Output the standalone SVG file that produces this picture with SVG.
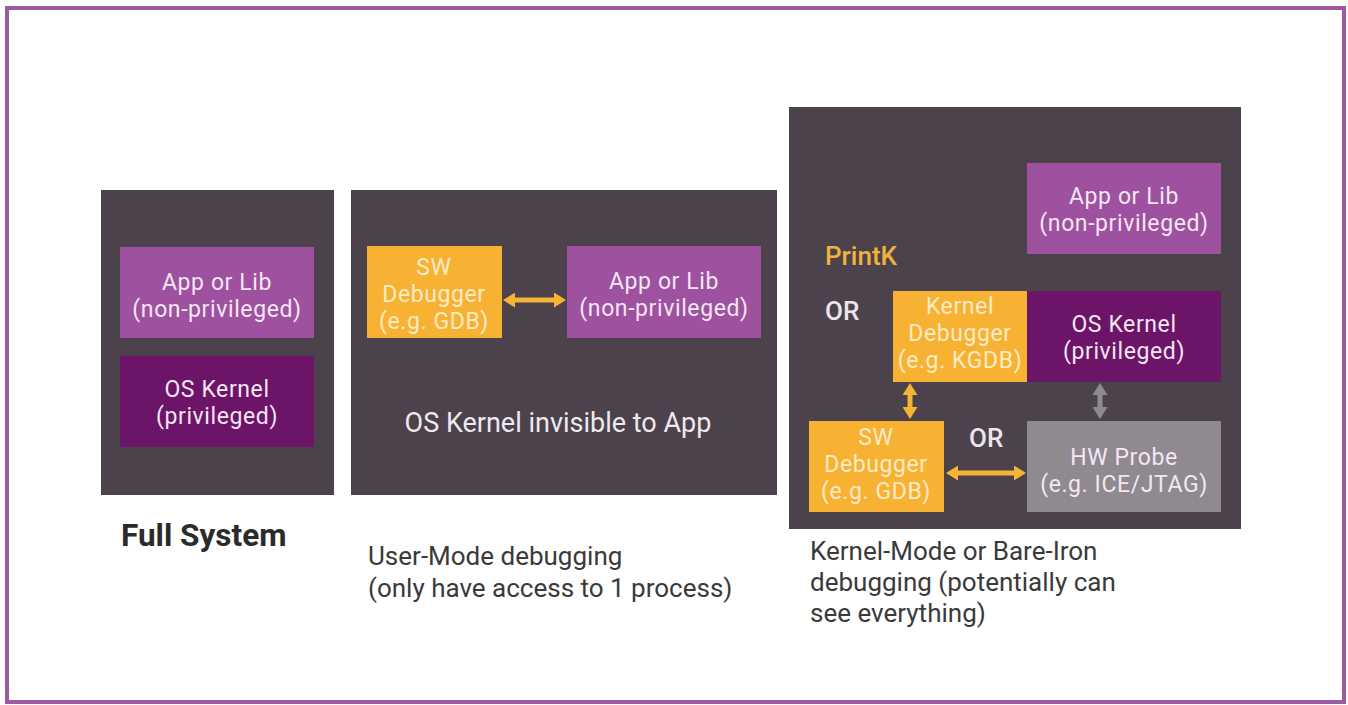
<svg xmlns="http://www.w3.org/2000/svg" width="1348" height="705" viewBox="0 0 1348 705">
  <style>
    .panel { fill: #4b424c; }
    .app { fill: #9d519f; }
    .kern { fill: #6c1468; }
    .dbg { fill: #f8b233; }
    .probe { fill: #8f8a90; }
    text { font-family: Roboto, "Liberation Sans", sans-serif; }
    .box { font-size: 23px; letter-spacing: 0.6px; fill: #f5e6f3; text-anchor: middle; }
    .boxo { font-size: 23px; letter-spacing: 0.6px; fill: #fdebc6; text-anchor: middle; }
    .big { font-size: 27px; fill: #efe9ef; text-anchor: middle; }
    .cap { font-size: 26px; fill: #3a3a3a; }
    .or { font-size: 26px; fill: #ece6ec; font-weight: 500; }
    .wire { stroke: #f6b437; stroke-width: 5; fill: none; marker-start: url(#headO); marker-end: url(#headO); }
    .wire.gray { stroke: #8f8a90; marker-start: url(#headG); marker-end: url(#headG); }
  </style>
  <defs>
    <marker id="headO" viewBox="0 0 12 15" refX="2" refY="7.5" markerWidth="12" markerHeight="15" markerUnits="userSpaceOnUse" orient="auto-start-reverse">
      <path d="M0,0 L12,7.5 L0,15 z" fill="#f6b437"/>
    </marker>
    <marker id="headG" viewBox="0 0 12 15" refX="2" refY="7.5" markerWidth="12" markerHeight="15" markerUnits="userSpaceOnUse" orient="auto-start-reverse">
      <path d="M0,0 L12,7.5 L0,15 z" fill="#8f8a90"/>
    </marker>
  </defs>

  <!-- page frame -->
  <rect x="0" y="0" width="1348" height="705" fill="#ffffff"/>
  <rect x="7" y="8" width="1337" height="694" fill="none" stroke="#9c5aa3" stroke-width="4"/>

  <!-- Full system panel -->
  <g id="panel-full">
    <rect class="panel" x="101" y="190" width="233" height="305"/>
  </g>
  <g id="full-app">
    <rect class="app" x="120" y="247" width="194" height="91"/>
    <text class="box" x="217" y="290">App or Lib<tspan x="217" dy="27">(non-privileged)</tspan></text>
  </g>
  <g id="full-kernel">
    <rect class="kern" x="120" y="356" width="194" height="91"/>
    <text class="box" x="217" y="397">OS Kernel<tspan x="217" dy="27">(privileged)</tspan></text>
  </g>
  <text x="121" y="546" font-size="31.5" font-weight="700" fill="#2b2b2b">Full System</text>

  <!-- User-mode panel -->
  <g id="panel-user">
    <rect class="panel" x="351" y="190" width="426" height="305"/>
    <text class="big" x="558" y="432">OS Kernel invisible to App</text>
  </g>
  <g id="user-dbg">
    <rect class="dbg" x="367" y="246" width="135" height="92"/>
    <text class="boxo" x="434" y="275">SW<tspan x="434" dy="27">Debugger</tspan><tspan x="434" dy="27">(e.g. GDB)</tspan></text>
  </g>
  <g id="user-app">
    <rect class="app" x="567" y="246" width="194" height="92"/>
    <text class="box" x="664" y="289">App or Lib<tspan x="664" dy="27">(non-privileged)</tspan></text>
  </g>
  <text class="cap" x="368" y="565">User-Mode debugging<tspan x="368" dy="32">(only have access to 1 process)</tspan></text>

  <!-- Kernel-mode panel -->
  <g id="panel-kernel">
    <rect class="panel" x="789" y="107" width="452" height="422"/>
    <text x="825" y="265" font-size="26" font-weight="500" fill="#f0b23c">PrintK</text>
    <text class="or" x="825" y="320">OR</text>
    <text class="or" x="969" y="447">OR</text>
  </g>
  <g id="k-app">
    <rect class="app" x="1027" y="163" width="194" height="91"/>
    <text class="box" x="1124" y="204">App or Lib<tspan x="1124" dy="27">(non-privileged)</tspan></text>
  </g>
  <g id="k-kdbg">
    <rect class="dbg" x="893" y="291" width="134" height="91"/>
    <text class="boxo" x="960" y="314">Kernel<tspan x="960" dy="27">Debugger</tspan><tspan x="960" dy="27">(e.g. KGDB)</tspan></text>
  </g>
  <g id="k-kernel">
    <rect class="kern" x="1027" y="291" width="194" height="91"/>
    <text class="box" x="1124" y="332">OS Kernel<tspan x="1124" dy="27">(privileged)</tspan></text>
  </g>
  <g id="k-swdbg">
    <rect class="dbg" x="809" y="421" width="135" height="91"/>
    <text class="boxo" x="876" y="445">SW<tspan x="876" dy="27">Debugger</tspan><tspan x="876" dy="27">(e.g. GDB)</tspan></text>
  </g>
  <g id="k-probe">
    <rect class="probe" x="1027" y="421" width="194" height="91"/>
    <text class="box" x="1124" y="465">HW Probe<tspan x="1124" dy="27">(e.g. ICE/JTAG)</tspan></text>
  </g>
  <text class="cap" x="810" y="560">Kernel-Mode or Bare-Iron<tspan x="810" dy="31">debugging (potentially can</tspan><tspan x="810" dy="31">see everything)</tspan></text>

  <!-- connectors -->
  <g id="connectors">
    <line class="wire" x1="513" y1="300" x2="556" y2="300"/>
    <line class="wire" x1="910" y1="393" x2="910" y2="409"/>
    <line class="wire gray" x1="1100" y1="393" x2="1100" y2="409"/>
    <line class="wire" x1="956" y1="473" x2="1016" y2="473"/>
  </g>
</svg>
